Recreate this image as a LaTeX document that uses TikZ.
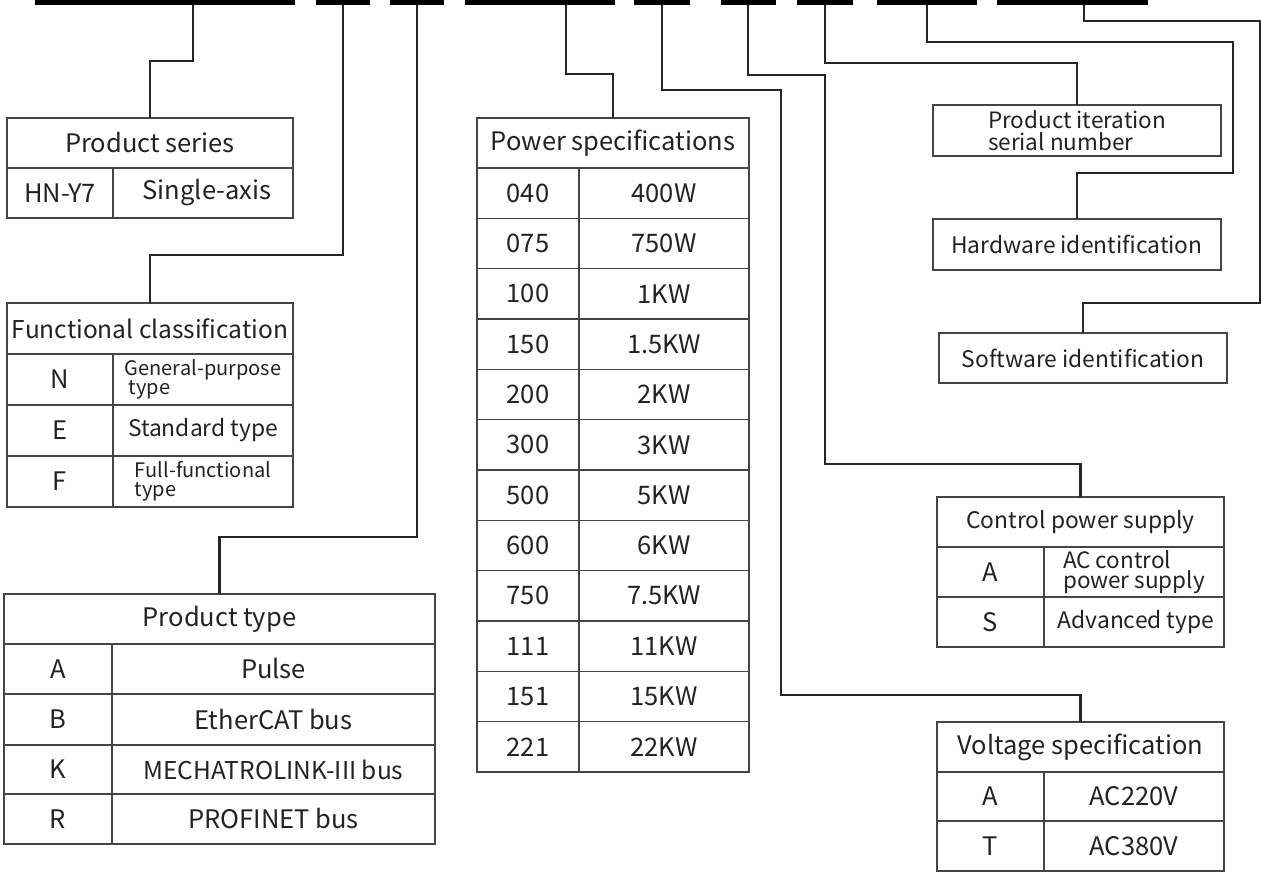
\documentclass[tikz,border=0pt]{standalone}
\usepackage{fontspec}
\setmainfont{Noto Sans CJK SC}
\usetikzlibrary{positioning}

\definecolor{ink}{HTML}{222222}
\definecolor{rule}{HTML}{444444}

% one table cell from its corners: [style]{name}{x1}{y1}{x2}{y2}{text}
\newcommand\tcell[7][]{%
  \pgfmathsetmacro\cellw{#5-#3}%
  \pgfmathsetmacro\cellh{#6-#4}%
  \node[cell, minimum width=\cellw pt, minimum height=\cellh pt, #1] (#2) at ({(#3+#5)/2},{(#4+#6)/2}) {#7};}

\begin{document}
\begin{tikzpicture}[
    x=1pt, y=-1pt,
    cell/.style={rectangle, draw=rule, line width=1.3pt, inner sep=0pt, outer sep=0pt, text=ink, font=\fontsize{25.5}{28}\selectfont},
    narrow/.style={font=\fontsize{22.8}{26}\selectfont},
    twoline/.style={align=left, font=\fontsize{20}{19}\selectfont},
    codebar/.style={rectangle, fill=black, inner sep=0pt, outer sep=0pt, minimum height=5pt},
    link/.style={line width=2.2pt, draw=black!85}
]
\useasboundingbox (0,0) rectangle (1261,873);

% Code bars
\node[codebar, minimum width=260pt] (bar1) at (165,2.5) {};
\node[codebar, minimum width=54pt] (bar2) at (343,2.5) {};
\node[codebar, minimum width=54pt] (bar3) at (417,2.5) {};
\node[codebar, minimum width=150pt] (bar4) at (540,2.5) {};
\node[codebar, minimum width=56pt] (bar5) at (662,2.5) {};
\node[codebar, minimum width=55pt] (bar6) at (748,2.5) {};
\node[codebar, minimum width=56pt] (bar7) at (825,2.5) {};
\node[codebar, minimum width=100pt] (bar8) at (927,2.5) {};
\node[codebar, minimum width=151pt] (bar9) at (1072.5,2.5) {};

% Product series
\tcell{ps-title}{7}{118}{293}{168}{Product series}
\tcell{ps-code}{7}{168}{113}{218}{HN-Y7}
\tcell{ps-text}{113}{168}{293}{218}{\hspace*{8pt}Single-axis}

% Functional classification
\tcell[font=\fontsize{24.5}{27}\selectfont]{fc-title}{7}{303}{293}{354}{Functional classification}
\tcell{fc-c1}{7}{354}{113}{405}{N}
\tcell[twoline]{fc-t1}{113}{354}{293}{405}{General-purpose\\\hspace*{4pt}type}
\tcell{fc-c2}{7}{405}{113}{456}{E}
\tcell[narrow]{fc-t2}{113}{405}{293}{456}{Standard type}
\tcell{fc-c3}{7}{456}{113}{507}{F}
\tcell[twoline]{fc-t3}{113}{456}{293}{507}{Full-functional\\type}

% Product type
\tcell{pt-title}{4}{594}{435}{644}{Product type}
\tcell{pt-c1}{4}{644}{112}{694}{A}
\tcell{pt-t1}{112}{644}{435}{694}{Pulse}
\tcell{pt-c2}{4}{694}{112}{745}{B}
\tcell{pt-t2}{112}{694}{435}{745}{EtherCAT bus}
\tcell{pt-c3}{4}{745}{112}{794}{K}
\tcell[font=\fontsize{24.5}{27}\selectfont]{pt-t3}{112}{745}{435}{794}{MECHATROLINK-III bus}
\tcell{pt-c4}{4}{794}{112}{844}{R}
\tcell{pt-t4}{112}{794}{435}{844}{PROFINET bus}

% Power specifications
\tcell{pw-title}{477}{118}{749}{168}{Power specifications}
\foreach \code/\watt [count=\i] in {040/400W, 075/750W, 100/1KW, 150/1.5KW, 200/2KW, 300/3KW,
    500/5KW, 600/6KW, 750/7.5KW, 111/11KW, 151/15KW, 221/22KW} {
  \pgfmathsetmacro\ytop{168+(\i-1)*50.33}
  \pgfmathsetmacro\ybot{\ytop+50.33}
  \tcell{pw-c\i}{477}{\ytop}{579}{\ybot}{\code}
  \tcell{pw-t\i}{579}{\ytop}{749}{\ybot}{\watt}
}

% Single boxes on the right
\tcell[align=left, font=\fontsize{22.5}{22}\selectfont]{pi-box}{933}{105}{1221}{156}{Product iteration\\serial number}
\tcell[narrow]{hw-box}{933}{219}{1221}{270}{Hardware identification}
\tcell[narrow]{sw-box}{939}{333}{1227}{383}{Software identification}

% Control power supply
\tcell[narrow]{cp-title}{937}{497}{1224}{547}{Control power supply}
\tcell{cp-c1}{937}{547}{1044}{597}{A}
\tcell[align=left, font=\fontsize{22.5}{20}\selectfont]{cp-t1}{1044}{547}{1224}{597}{AC control\\power supply}
\tcell{cp-c2}{937}{597}{1044}{647}{S}
\tcell[narrow]{cp-t2}{1044}{597}{1224}{647}{\hspace*{4pt}Advanced type}

% Voltage specification
\tcell{vs-title}{937}{722}{1224}{772}{Voltage specification}
\tcell{vs-c1}{937}{772}{1044}{821}{A}
\tcell{vs-t1}{1044}{772}{1224}{821}{AC220V}
\tcell{vs-c2}{937}{821}{1044}{871}{T}
\tcell{vs-t2}{1044}{821}{1224}{871}{AC380V}

% Connectors
\draw[link] ([xshift=28pt]bar1.south) -- ++(0,56) -| (ps-title.north);
\draw[link] (bar2.south) -- ++(0,250) -| (fc-title.north);
\draw[link] (bar3.south) -- ++(0,532) -| (pt-title.north);
\draw[link] ([xshift=26pt]bar4.south) -- ++(0,69) -| (pw-title.north);
\draw[link] (bar5.south) -- ++(0,85) -- ++(119,0) -- ++(0,605) -| (vs-title.north);
\draw[link] (bar6.south) -- ++(0,70) -- ++(77,0) -- ++(0,389) -| (cp-title.north);
\draw[link] (bar7.south) -- ++(0,58) -| (pi-box.north);
\draw[link] (bar8.south) -- ++(0,37) -- ++(306,0) -- ++(0,131) -| (hw-box.north);
\draw[link] ([xshift=11.5pt]bar9.south) -- ++(0,16) -- ++(176,0) -- ++(0,282) -| (sw-box.north);

\end{tikzpicture}
\end{document}
